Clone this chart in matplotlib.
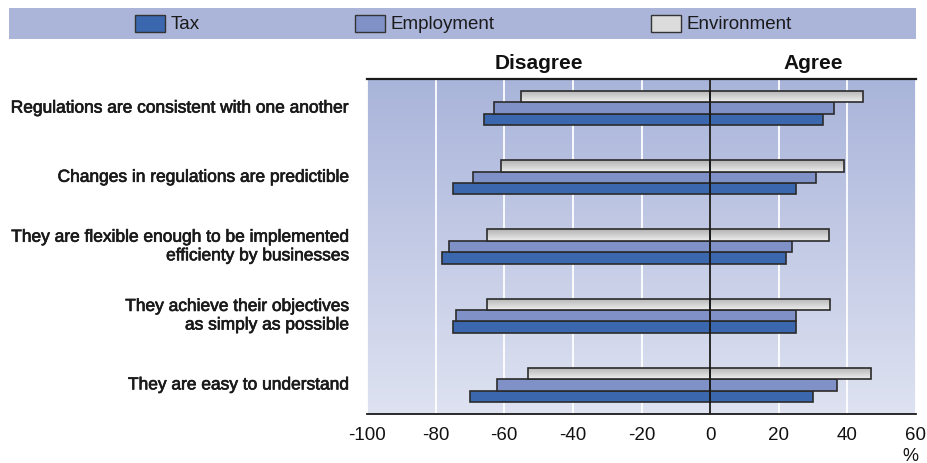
import numpy as np
import matplotlib
matplotlib.use("Agg")
import matplotlib.pyplot as plt
from matplotlib.patches import Rectangle
import matplotlib.patheffects as pe

# Survey statements (top to bottom)
categories = [
    "Regulations are consistent with one another",
    "Changes in regulations are predictible",
    "They are flexible enough to be implemented\nefficienty by businesses",
    "They achieve their objectives\nas simply as possible",
    "They are easy to understand",
]
series_names = ["Tax", "Employment", "Environment"]

# Share of respondents who disagree (negative) and agree (positive), %
disagree_tax = [-66, -75, -78, -75, -70]
disagree_employment = [-63, -69, -76, -74, -62]
disagree_environment = [-55, -61, -65, -65, -53]
agree_tax = [33, 25, 22, 25, 30]
agree_employment = [36, 31, 24, 25, 37]
agree_environment = [44.5, 39, 34.5, 35, 47]

xticks = [-100, -80, -60, -40, -20, 0, 20, 40, 60]

plt.rcParams["font.family"] = ["Liberation Sans", "DejaVu Sans"]

fig = plt.figure(figsize=(9.27, 4.64), dpi=100)
ax = fig.add_axes([367 / 927, 1 - 415 / 464, (916 - 367) / 927, (415 - 80) / 464])

# vertical gradient background
bg_top = np.array([0xa9, 0xb4, 0xda]) / 255
bg_bot = np.array([0xde, 0xe2, 0xf1]) / 255
t = np.linspace(0, 1, 256)[:, None]
grad = bg_top[None, None, :] * (1 - t[:, :, None]) + bg_bot[None, None, :] * t[:, :, None]
ax.imshow(grad, extent=[0, 1, 0, 1], transform=ax.transAxes, aspect="auto",
          zorder=0, interpolation="bicubic")

colors = {"Tax": "#3a67ae", "Employment": "#7f91c7", "Environment": "#d6d6d6"}
edge = "#2b2b2b"
h = 0.165
y = np.arange(len(categories))
offsets = {"Environment": -h, "Employment": 0.0, "Tax": h}
values = {
    "Tax": (disagree_tax, agree_tax),
    "Employment": (disagree_employment, agree_employment),
    "Environment": (disagree_environment, agree_environment),
}

# light-gray shaded fill for the environment bars
g_top = np.array([0.93, 0.93, 0.93])
g_bot = np.array([0.70, 0.70, 0.70])
gg = np.linspace(0, 1, 64)[:, None]
gray_grad = g_top[None, None, :] * (1 - gg[:, :, None]) + g_bot[None, None, :] * gg[:, :, None]

for name in series_names:
    neg, pos = values[name]
    for vals in (neg, pos):
        bars = ax.barh(y + offsets[name], vals, height=h, color=colors[name],
                       edgecolor=edge, linewidth=1.2, zorder=3)
        if name == "Environment":
            for b in bars:
                x0, y0, w, hh = b.get_x(), b.get_y(), b.get_width(), b.get_height()
                im = ax.imshow(gray_grad, extent=[x0, x0 + w, y0, y0 + hh],
                               aspect="auto", zorder=3.5, interpolation="bicubic")
                im.set_clip_path(b)
                b.set_facecolor("none")
                b.set_zorder(4)

ax.set_xlim(-100, 60)
ax.set_ylim(4.42, -0.42)
ax.set_yticks([])
ax.set_xticks(xticks)
ax.set_xticklabels([str(v) for v in xticks], fontsize=13.5, color="#111111")
ax.tick_params(axis="x", length=0, pad=9)
ax.grid(axis="x", color="white", linewidth=1.3, zorder=1)
ax.set_axisbelow(True)
ax.axvline(0, color="#1a1a1a", linewidth=1.3, zorder=5)

for side in ("left", "right"):
    ax.spines[side].set_visible(False)
ax.spines["top"].set_linewidth(1.6)
ax.spines["top"].set_color("#1a1a1a")
ax.spines["bottom"].set_linewidth(1.3)
ax.spines["bottom"].set_color("#1a1a1a")
ax.spines["top"].set_zorder(6)

# category labels
for yi, lab in zip(y, categories):
    ax.text(-105, yi, lab, ha="right", va="center", fontsize=12.5, color="#1a1a1a",
            linespacing=1.3, transform=ax.transData,
            path_effects=[pe.withStroke(linewidth=0.5, foreground="#1a1a1a")])

# column headers
ax.text(-50, -0.66, "Disagree", ha="center", va="center", fontsize=15,
        fontweight="bold", color="#111111")
ax.text(30, -0.66, "Agree", ha="center", va="center", fontsize=15,
        fontweight="bold", color="#111111")

ax.text(58.5, -0.125, "%", transform=ax.get_xaxis_transform(), ha="center",
        va="center", fontsize=13, color="#111111", clip_on=False)

# legend band
fig.patches.append(Rectangle((9 / 927, 1 - 40 / 464), (916 - 9) / 927, 31 / 464,
                             transform=fig.transFigure, facecolor="#abb5da",
                             edgecolor="none", zorder=0))
legend_x = {"Tax": 135, "Employment": 355, "Environment": 651}
for name in series_names:
    x0 = legend_x[name]
    fc = colors[name] if name != "Environment" else "#dcdcdc"
    fig.patches.append(Rectangle((x0 / 927, 1 - 33 / 464), 30 / 927, 17 / 464,
                                 transform=fig.transFigure, facecolor=fc,
                                 edgecolor="#333333", linewidth=1.0, zorder=2))
    fig.text((x0 + 36) / 927, 1 - 24.5 / 464, name, ha="left", va="center",
             fontsize=13.5, color="#1a1a1a")

fig.savefig("out.png", dpi=100)
